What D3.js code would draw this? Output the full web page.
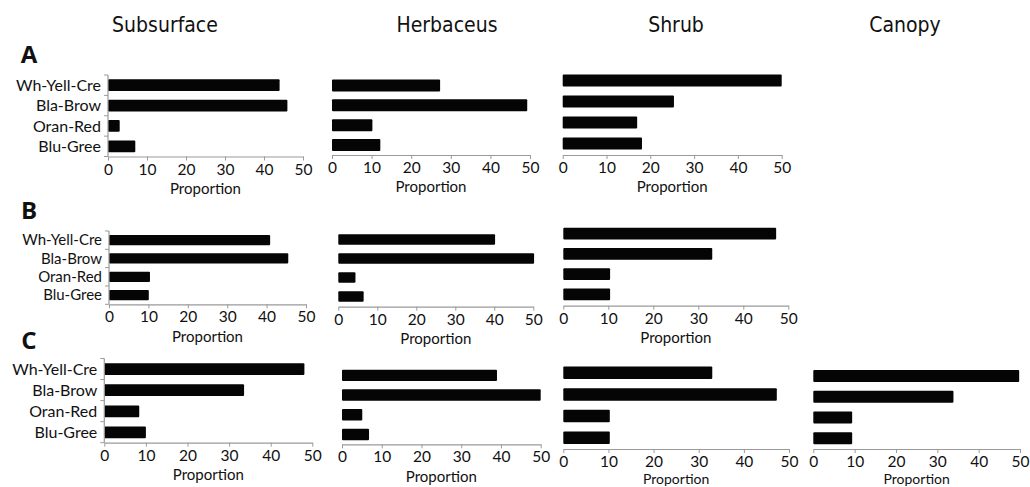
<!DOCTYPE html>
<html>
<head>
<meta charset="utf-8">
<script src="https://cdn.jsdelivr.net/npm/d3@7"></script>
<style>
  html, body { margin: 0; padding: 0; background: #fff; }
  svg { display: block; }
  .lbl { font-family: Lato, "Open Sans", sans-serif; fill: #111; }
  .title { font-family: "Liberation Sans Narrow", "DejaVu Sans Condensed", sans-serif; fill: #111; }
  .letter { font-family: "Open Sans", "Noto Sans", sans-serif; font-weight: 700; fill: #111; }
</style>
</head>
<body>
<svg id="chart" width="1030" height="487"></svg>
<script>
// Colour categories (top to bottom)
const categories = ["Wh-Yell-Cre", "Bla-Brow", "Oran-Red", "Blu-Gree"];
const strata = ["Subsurface", "Herbaceus", "Shrub", "Canopy"];
const rowLabels = ["A", "B", "C"];
const xTicks = [0, 10, 20, 30, 40, 50];

// Proportions (%) per colour category
const aSubsurface = [44, 46, 3, 7];
const aHerbaceus  = [27.3, 49.3, 10.2, 12.2];
const aShrub      = [50, 25.4, 17, 18.1];

const bSubsurface = [40.9, 45.5, 10.4, 10.1];
const bHerbaceus  = [40.2, 50.2, 4.4, 6.5];
const bShrub      = [47.3, 33.1, 10.4, 10.4];

const cSubsurface = [48.1, 33.6, 8.4, 10];
const cHerbaceus  = [39, 50, 5.1, 6.8];
const cShrub      = [33, 47.3, 10.3, 10.3];
const cCanopy     = [49.8, 33.9, 9.4, 9.4];

// Panel placement: x range of the axis, band range, axis baseline
const panels = [
  { values: aSubsurface, x: [108, 303],     y: [75, 156.5],    axisY: 156.5, yAxis: true,  pad: 0.42, catSize: 16 },
  { values: aHerbaceus,  x: [332, 530],     y: [75.5, 155],    axisY: 155,   yAxis: false, pad: 0.40 },
  { values: aShrub,      x: [562.7, 781.7], y: [70, 154],      axisY: 155,   yAxis: false, pad: 0.44 },

  { values: bSubsurface, x: [109, 306],     y: [231, 304.3],   axisY: 304.3, yAxis: true,  pad: 0.44, catSize: 15 },
  { values: bHerbaceus,  x: [338.3, 533.3], y: [230, 306],     axisY: 306.7, yAxis: false, pad: 0.44 },
  { values: bShrub,      x: [563.3, 788.3], y: [223.5, 304.5], axisY: 305.7, yAxis: false, pad: 0.42 },

  { values: cSubsurface, x: [104.3, 312.3], y: [358.5, 443],   axisY: 442.7, yAxis: true,  pad: 0.44, catSize: 16 },
  { values: cHerbaceus,  x: [342, 540.7],   y: [365.5, 444.3], axisY: 444.3, yAxis: false, pad: 0.42 },
  { values: cShrub,      x: [563.3, 789],   y: [362, 448.5],   axisY: 449,   yAxis: false, pad: 0.42 },
  { values: cCanopy,     x: [813.3, 1020],  y: [365.6, 448.7], axisY: 449,   yAxis: false, pad: 0.42 }
];

const titlePos = [165, 447, 676, 905];
const letterPos = [[29, 55], [29, 211], [29, 341]];

const svg = d3.select("#chart");

// Column headers
svg.selectAll("text.title").data(strata).join("text")
  .attr("class", "title")
  .attr("x", (d, i) => titlePos[i])
  .attr("y", 25)
  .attr("dy", "0.35em")
  .attr("text-anchor", "middle")
  .style("font-size", "21px")
  .text(d => d);

// Row letters
svg.selectAll("text.letter").data(rowLabels).join("text")
  .attr("class", "letter")
  .attr("x", (d, i) => letterPos[i][0])
  .attr("y", (d, i) => letterPos[i][1])
  .attr("dy", "0.35em")
  .attr("text-anchor", "middle")
  .style("font-size", "24px")
  .text(d => d);

const axisColor = "#9a9a9a";

panels.forEach(p => {
  const x = d3.scaleLinear().domain([0, 50]).range(p.x);
  const y = d3.scaleBand().domain(categories).range(p.y).paddingInner(p.pad).paddingOuter(p.pad / 2);
  const g = svg.append("g");

  // Bars
  g.selectAll("rect").data(categories).join("rect")
    .attr("x", x(0))
    .attr("y", d => y(d))
    .attr("width", (d, i) => x(p.values[i]) - x(0))
    .attr("height", y.bandwidth())
    .attr("rx", 1)
    .attr("fill", "#050505");

  // X axis
  const xa = g.append("g").attr("transform", `translate(0,${p.axisY})`)
    .call(d3.axisBottom(x).tickValues(xTicks).tickSize(4).tickSizeOuter(0).tickPadding(3));
  xa.select(".domain").attr("stroke", axisColor).attr("stroke-width", 1.2);
  xa.selectAll(".tick line").attr("stroke", axisColor);
  xa.selectAll(".tick text")
    .attr("class", "lbl")
    .style("font-size", "15.5px")
    .attr("fill", "#111");

  // Axis title; the lowest panels sit against the bottom edge
  const titleY = p.axisY + 32;
  const clamped = titleY > 479;
  g.append("text")
    .attr("class", "lbl")
    .attr("x", (p.x[0] + p.x[1]) / 2)
    .attr("y", clamped ? 479 : titleY)
    .attr("dy", "0.35em")
    .attr("text-anchor", "middle")
    .style("font-size", clamped ? "14px" : "15px")
    .text("Proportion");

  if (p.yAxis) {
    // Category axis with boundary ticks
    const yl = d3.scaleLinear().domain([0, 4]).range([p.y[0], p.axisY]);
    g.append("line")
      .attr("x1", x(0)).attr("x2", x(0))
      .attr("y1", p.y[0]).attr("y2", p.axisY)
      .attr("stroke", axisColor).attr("stroke-width", 1.2);
    g.selectAll("line.yt").data(d3.range(5)).join("line")
      .attr("class", "yt")
      .attr("x1", x(0) - 4).attr("x2", x(0))
      .attr("y1", d => yl(d)).attr("y2", d => yl(d))
      .attr("stroke", axisColor);
    g.selectAll("text.cat").data(categories).join("text")
      .attr("class", "lbl cat")
      .attr("x", x(0) - 7)
      .attr("y", d => y(d) + y.bandwidth() / 2)
      .attr("dy", "0.35em")
      .attr("text-anchor", "end")
      .style("font-size", p.catSize + "px")
      .text(d => d);
  }
});
</script>
</body>
</html>
